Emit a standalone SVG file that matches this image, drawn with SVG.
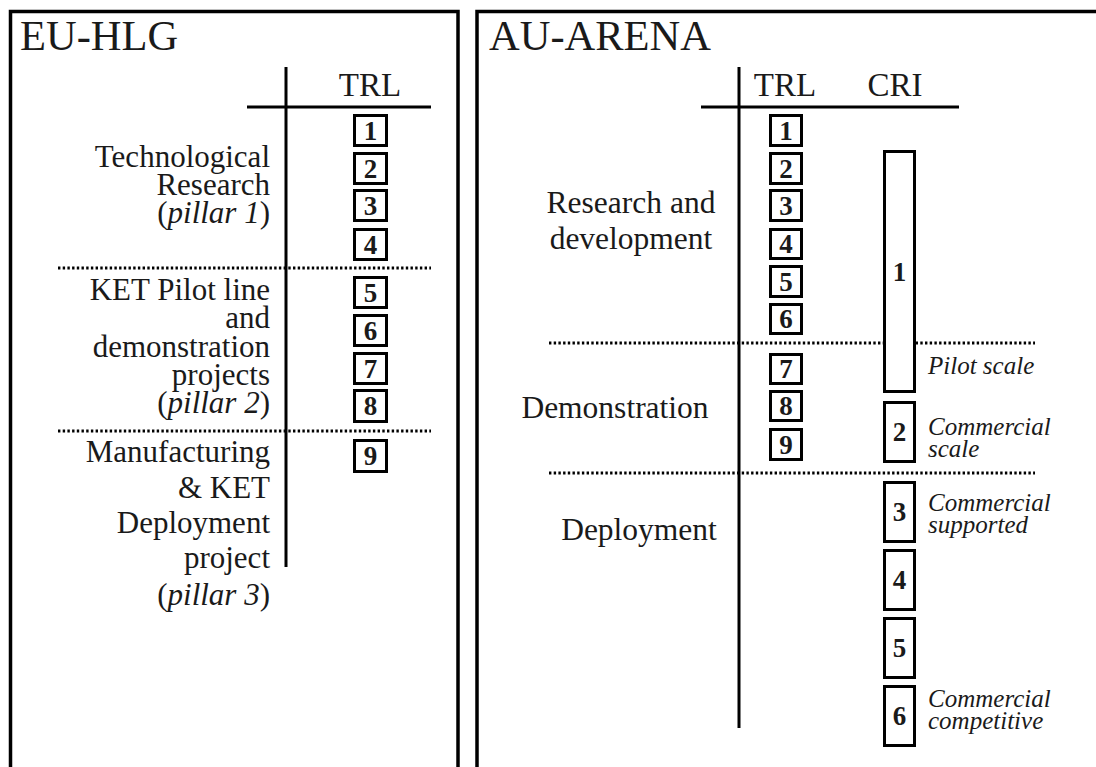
<svg xmlns="http://www.w3.org/2000/svg" width="1096" height="767" viewBox="0 0 1096 767">
<style>
text{font-family:"Liberation Serif","Times New Roman",serif;fill:#1a1a1a}
.title{font-size:42.5px}
.hdr{font-size:33px;text-anchor:middle}
.lbl{font-size:31.5px}
.lr{font-size:31px;text-anchor:end}
.num{font-size:27px;font-weight:bold;text-anchor:middle}
.it{font-size:25px;font-style:italic}
.box{fill:#fff;stroke:#000;stroke-width:3}
.axis{stroke:#000;stroke-width:3;fill:none}
.dot{stroke:#000;stroke-width:3;stroke-dasharray:2.4 2.3;fill:none}
.frame{fill:none;stroke:#000;stroke-width:3.5}
</style>
<rect width="1096" height="767" fill="#fff"/>
<g id="panel-eu">
<rect class="frame" x="10.5" y="11.5" width="447.5" height="800"/>
<text class="title" x="20" y="50">EU-HLG</text>
</g>
<g id="panel-au">
<rect class="frame" x="477" y="11.5" width="700" height="800"/>
<text class="title" x="489" y="50">AU-ARENA</text>
</g>
<g id="connectors">
<line class="axis" x1="286" y1="67" x2="286" y2="567"/>
<line class="axis" x1="247" y1="107" x2="431" y2="107"/>
<line class="dot" x1="58" y1="268" x2="431" y2="268"/>
<line class="dot" x1="58" y1="431" x2="431" y2="431"/>
<line class="axis" x1="739" y1="67" x2="739" y2="728"/>
<line class="axis" x1="701" y1="107" x2="959" y2="107"/>
<line class="dot" x1="549" y1="343" x2="1035" y2="343"/>
<line class="dot" x1="549" y1="473" x2="1035" y2="473"/>
</g>
<g id="eu-headers">
<text class="hdr" x="370" y="96">TRL</text>
</g>
<g id="eu-pillar1">
<text class="lr" x="270" y="167">Technological</text>
<text class="lr" x="270" y="195">Research</text>
<text class="lr" x="270" y="223">(<tspan font-style="italic">pillar 1</tspan>)</text>
</g>
<g id="eu-pillar2">
<text class="lr" x="270" y="300">KET Pilot line</text>
<text class="lr" x="270" y="328">and</text>
<text class="lr" x="270" y="357">demonstration</text>
<text class="lr" x="270" y="385">projects</text>
<text class="lr" x="270" y="413">(<tspan font-style="italic">pillar 2</tspan>)</text>
</g>
<g id="eu-pillar3">
<text class="lr" x="270" y="462">Manufacturing</text>
<text class="lr" x="270" y="498">&amp; KET</text>
<text class="lr" x="270" y="533">Deployment</text>
<text class="lr" x="270" y="568">project</text>
<text class="lr" x="270" y="605">(<tspan font-style="italic">pillar 3</tspan>)</text>
</g>
<g id="eu-trl-1"><rect class="box" x="354.5" y="115.5" width="32" height="30"/><text class="num" x="370.5" y="140">1</text></g>
<g id="eu-trl-2"><rect class="box" x="354.5" y="153.5" width="32" height="30"/><text class="num" x="370.5" y="178">2</text></g>
<g id="eu-trl-3"><rect class="box" x="354.5" y="190.5" width="32" height="30"/><text class="num" x="370.5" y="215">3</text></g>
<g id="eu-trl-4"><rect class="box" x="354.5" y="229.5" width="32" height="30"/><text class="num" x="370.5" y="254">4</text></g>
<g id="eu-trl-5"><rect class="box" x="354.5" y="277.5" width="32" height="30"/><text class="num" x="370.5" y="302">5</text></g>
<g id="eu-trl-6"><rect class="box" x="354.5" y="315.5" width="32" height="30"/><text class="num" x="370.5" y="340">6</text></g>
<g id="eu-trl-7"><rect class="box" x="354.5" y="353.5" width="32" height="30"/><text class="num" x="370.5" y="378">7</text></g>
<g id="eu-trl-8"><rect class="box" x="354.5" y="390.5" width="32" height="31"/><text class="num" x="370.5" y="415">8</text></g>
<g id="eu-trl-9"><rect class="box" x="354.5" y="440.5" width="32" height="31"/><text class="num" x="370.5" y="465">9</text></g>
<g id="au-headers">
<text class="hdr" x="785" y="96">TRL</text>
<text class="hdr" x="895" y="96">CRI</text>
</g>
<g id="au-rd">
<text class="lbl" x="631" y="213" text-anchor="middle">Research and</text>
<text class="lbl" x="631" y="249" text-anchor="middle">development</text>
</g>
<g id="au-demo"><text class="lbl" x="615" y="418" text-anchor="middle">Demonstration</text></g>
<g id="au-deploy"><text class="lbl" x="639" y="540" text-anchor="middle">Deployment</text></g>
<g id="au-trl-1"><rect class="box" x="770.5" y="115.5" width="31" height="30"/><text class="num" x="786" y="140">1</text></g>
<g id="au-trl-2"><rect class="box" x="770.5" y="153.5" width="31" height="30"/><text class="num" x="786" y="178">2</text></g>
<g id="au-trl-3"><rect class="box" x="770.5" y="190.5" width="31" height="30"/><text class="num" x="786" y="215">3</text></g>
<g id="au-trl-4"><rect class="box" x="770.5" y="229.5" width="31" height="29"/><text class="num" x="786" y="253">4</text></g>
<g id="au-trl-5"><rect class="box" x="770.5" y="266.5" width="31" height="30"/><text class="num" x="786" y="291">5</text></g>
<g id="au-trl-6"><rect class="box" x="770.5" y="304.5" width="31" height="29"/><text class="num" x="786" y="328">6</text></g>
<g id="au-trl-7"><rect class="box" x="770.5" y="354.5" width="31" height="29"/><text class="num" x="786" y="378">7</text></g>
<g id="au-trl-8"><rect class="box" x="770.5" y="391.5" width="31" height="29"/><text class="num" x="786" y="415">8</text></g>
<g id="au-trl-9"><rect class="box" x="770.5" y="429.5" width="31" height="30"/><text class="num" x="786" y="454">9</text></g>
<g id="au-cri-1"><rect class="box" x="884.5" y="151.5" width="30" height="240"/><text class="num" x="899.5" y="281">1</text><text class="it" x="928" y="374">Pilot scale</text></g>
<g id="au-cri-2"><rect class="box" x="884.5" y="402.5" width="30" height="59"/><text class="num" x="899.5" y="441">2</text><text class="it" x="928" y="435">Commercial</text><text class="it" x="928" y="457">scale</text></g>
<g id="au-cri-3"><rect class="box" x="884.5" y="482.5" width="30" height="59"/><text class="num" x="899.5" y="521">3</text><text class="it" x="928" y="511">Commercial</text><text class="it" x="928" y="533">supported</text></g>
<g id="au-cri-4"><rect class="box" x="884.5" y="550.5" width="30" height="59"/><text class="num" x="899.5" y="589">4</text></g>
<g id="au-cri-5"><rect class="box" x="884.5" y="618.5" width="30" height="59"/><text class="num" x="899.5" y="657">5</text></g>
<g id="au-cri-6"><rect class="box" x="884.5" y="686.5" width="30" height="59"/><text class="num" x="899.5" y="725">6</text><text class="it" x="928" y="707">Commercial</text><text class="it" x="928" y="729">competitive</text></g>
</svg>
